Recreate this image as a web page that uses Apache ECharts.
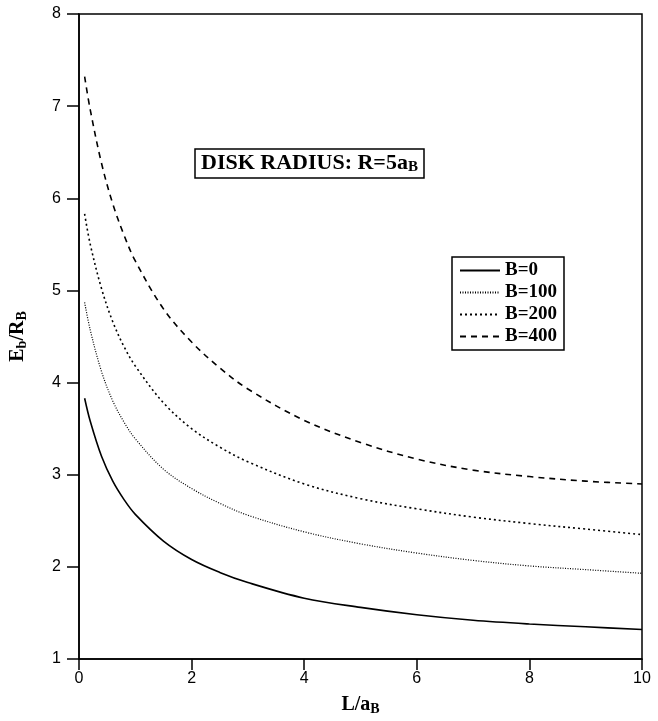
<!DOCTYPE html>
<html>
<head>
<meta charset="utf-8">
<script src="https://cdn.jsdelivr.net/npm/echarts@6/dist/echarts.min.js"></script>
<style>
  html, body { margin: 0; padding: 0; background: #fff; }
  #chart { width: 658px; height: 721px; }
</style>
</head>
<body>
<div id="chart"></div>
<script>
// L/aB positions where the curves were read
const xs = [0.1, 0.2, 0.4, 0.6, 0.8, 1.0, 1.5, 2.0, 2.5, 3.0, 4.0, 5.0, 6.0, 7.0, 8.0, 9.0, 10]

// Eb/RB
const b0   = [3.83, 3.58, 3.20, 2.93, 2.73, 2.57, 2.28, 2.08, 1.94, 1.83, 1.66, 1.56, 1.48, 1.42, 1.38, 1.35, 1.32]
const b100 = [4.87, 4.57, 4.12, 3.80, 3.57, 3.39, 3.06, 2.85, 2.69, 2.56, 2.38, 2.25, 2.15, 2.07, 2.01, 1.97, 1.93]
const b200 = [5.83, 5.50, 5.02, 4.66, 4.39, 4.18, 3.78, 3.50, 3.30, 3.14, 2.90, 2.74, 2.63, 2.54, 2.47, 2.41, 2.35]
const b400 = [7.32, 6.96, 6.38, 5.94, 5.60, 5.32, 4.80, 4.44, 4.16, 3.93, 3.59, 3.35, 3.17, 3.05, 2.98, 2.93, 2.90]

const names = ["B=0", "B=100", "B=200", "B=400"]
const serif = "Liberation Serif"
const sans = "Liberation Sans"

const pairs = ys => xs.map((x, i) => [x, ys[i]])

function mkSeries(name, ys, type, width) {
    return {
        name: name,
        type: "line",
        data: pairs(ys),
        smooth: 0.35,
        symbol: "none",
        lineStyle: { color: "#000", width: width, type: type },
        itemStyle: { color: "#000" }
    }
}

const chart = echarts.init(document.getElementById("chart"), null, { renderer: "canvas" })

chart.setOption({
    animation: false,
    backgroundColor: "#fff",
    grid: {
        left: 78, right: 16, top: 14, bottom: 57,
        show: true, borderColor: "#000", borderWidth: 1.5
    },
    title: {
        text: "DISK RADIUS: R=5a{s|B}",
        left: 195, top: 148,
        borderColor: "#000", borderWidth: 1.5,
        padding: [4, 6, 3, 6],
        textStyle: {
            fontFamily: serif, fontWeight: "bold", fontSize: 22, color: "#000",
            rich: { s: { fontFamily: serif, fontWeight: "bold", fontSize: 15, padding: [8, 0, 0, 0] } }
        }
    },
    legend: {
        data: names,
        orient: "vertical",
        left: 452, top: 257,
        borderColor: "#000", borderWidth: 1.5,
        padding: [4, 7, 4, 7],
        itemGap: 3,
        itemWidth: 40, itemHeight: 14,
        itemStyle: { opacity: 0 },
        textStyle: { fontFamily: serif, fontWeight: "bold", fontSize: 19, color: "#000" }
    },
    xAxis: {
        type: "value",
        min: 0, max: 10, interval: 2,
        name: "L/a{s|B}",
        nameLocation: "middle",
        nameGap: 35,
        nameTextStyle: {
            fontFamily: serif, fontWeight: "bold", fontSize: 20, color: "#000",
            rich: { s: { fontFamily: serif, fontWeight: "bold", fontSize: 14, padding: [8, 0, 0, 0] } }
        },
        axisLine: { lineStyle: { color: "#000", width: 1.5 } },
        axisTick: { inside: false, length: 11, lineStyle: { color: "#000", width: 1.5 } },
        axisLabel: { fontFamily: sans, fontSize: 16, color: "#000", margin: 12 },
        splitLine: { show: false }
    },
    yAxis: {
        type: "value",
        min: 1, max: 8, interval: 1,
        name: "E{s|b}/R{s|B}",
        nameLocation: "middle",
        nameGap: 50,
        nameTextStyle: {
            fontFamily: serif, fontWeight: "bold", fontSize: 20, color: "#000",
            rich: { s: { fontFamily: serif, fontWeight: "bold", fontSize: 14, padding: [8, 0, 0, 0] } }
        },
        axisLine: { lineStyle: { color: "#000", width: 1.5 } },
        axisTick: { inside: false, length: 12, lineStyle: { color: "#000", width: 1.5 } },
        axisLabel: { fontFamily: sans, fontSize: 16, color: "#000", margin: 18 },
        splitLine: { show: false }
    },
    series: [
        mkSeries(names[0], b0, "solid", 1.6),
        mkSeries(names[1], b100, [1, 1.5], 1.2),
        mkSeries(names[2], b200, [2, 3], 1.6),
        mkSeries(names[3], b400, [6, 5], 1.6)
    ]
})
</script>
</body>
</html>
